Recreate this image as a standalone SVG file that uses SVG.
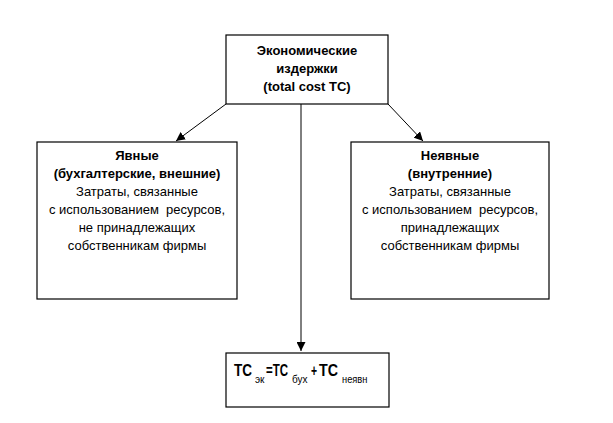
<svg xmlns="http://www.w3.org/2000/svg" width="613" height="423" viewBox="0 0 613 423">
<style>
  .box { fill: #ffffff; stroke: #000000; stroke-width: 1.2; }
  .t { font-family: "Liberation Sans", Arial, sans-serif; font-size: 13px; fill: #000; text-anchor: middle; }
  .b { font-weight: bold; }
  .f { font-family: "Liberation Sans", Arial, sans-serif; fill: #000; }
  .big { font-size: 16px; font-weight: bold; }
  .sub { font-size: 10px; }
  .conn { stroke: #000; stroke-width: 1; fill: none; marker-end: url(#arr); }
</style>
<defs>
  <marker id="arr" viewBox="0 0 10 10" refX="10" refY="5" markerWidth="9" markerHeight="9" markerUnits="userSpaceOnUse" orient="auto">
    <path d="M0,0 L10,5 L0,10 z" fill="#000"/>
  </marker>
</defs>
<rect width="613" height="423" fill="#ffffff"/>
<g id="connectors">
  <line class="conn" x1="226" y1="104" x2="176" y2="141"/>
  <line class="conn" x1="388" y1="104" x2="423" y2="141"/>
  <line class="conn" x1="301" y1="104" x2="301" y2="351"/>
</g>
<g id="node-total">
  <rect class="box" x="226" y="35" width="162" height="69"/>
  <text class="t b" x="307" y="55">Экономические</text>
  <text class="t b" x="307" y="73">издержки</text>
  <text class="t b" x="307" y="91">(total cost TC)</text>
</g>
<g id="node-explicit">
  <rect class="box" x="37" y="142" width="200" height="157"/>
  <text class="t b" x="137" y="160">Явные</text>
  <text class="t b" x="137" y="178">(бухгалтерские, внешние)</text>
  <text class="t" x="137" y="196">Затраты, связанные</text>
  <text class="t" x="137" y="214">с использованием&#160; ресурсов,</text>
  <text class="t" x="137" y="232">не принадлежащих</text>
  <text class="t" x="137" y="250">собственникам фирмы</text>
</g>
<g id="node-implicit">
  <rect class="box" x="351" y="142" width="198" height="157"/>
  <text class="t b" x="450" y="160">Неявные</text>
  <text class="t b" x="450" y="178">(внутренние)</text>
  <text class="t" x="450" y="196">Затраты, связанные</text>
  <text class="t" x="450" y="214">с использованием&#160; ресурсов,</text>
  <text class="t" x="450" y="232">принадлежащих</text>
  <text class="t" x="450" y="250">собственникам фирмы</text>
</g>
<g id="node-formula">
  <rect class="box" x="226" y="353" width="163" height="54"/>
  <text class="f big" transform="translate(234,376) scale(0.845,1)">TC</text>
  <text class="f sub" x="255" y="383">эк</text>
  <text class="f big" transform="translate(266,376) scale(0.72,1)">=TC</text>
  <text class="f sub" x="292" y="383">бух</text>
  <text class="f big" transform="translate(311,376) scale(0.65,1)">+</text>
  <text class="f big" transform="translate(319,376) scale(0.89,1)">TC</text>
  <text class="f sub" transform="translate(342,383) scale(0.93,1)">неявн</text>
</g>
</svg>
